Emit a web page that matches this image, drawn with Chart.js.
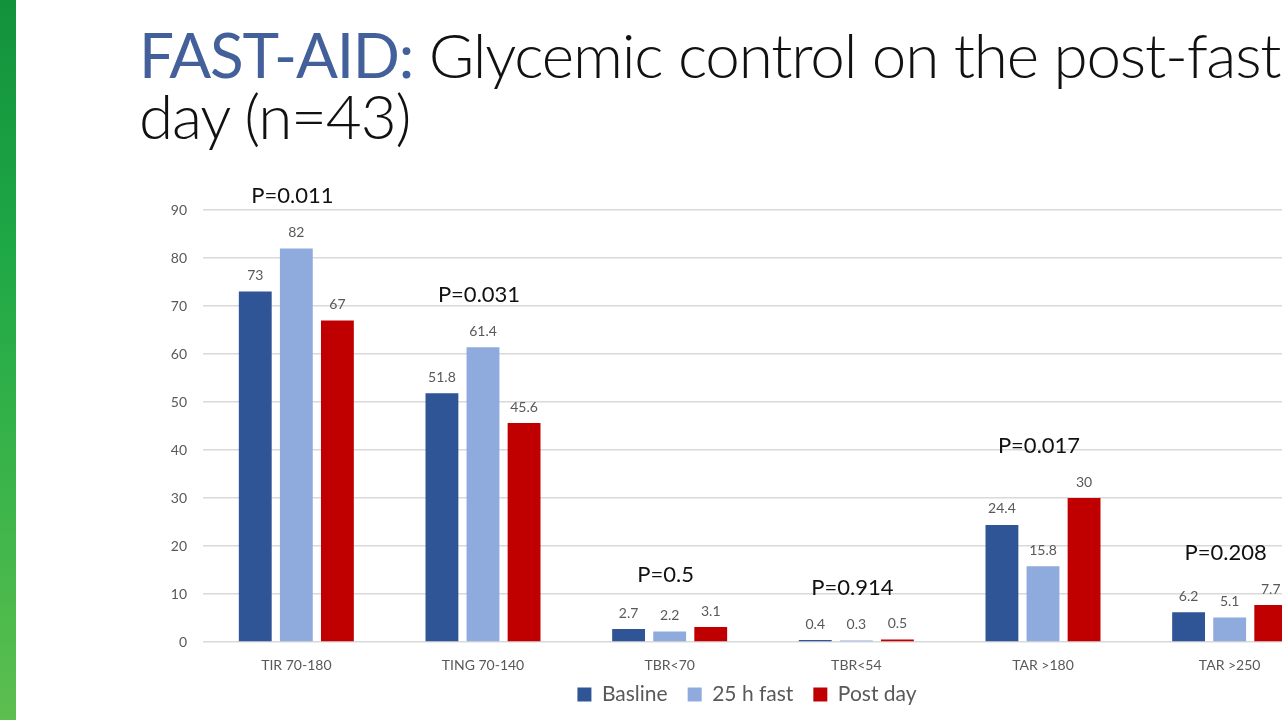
<!DOCTYPE html>
<html>
<head>
<meta charset="utf-8">
<script src="https://cdn.jsdelivr.net/npm/chart.js@4/dist/chart.umd.min.js"></script>
<style>
  html, body { margin: 0; padding: 0; width: 1282px; height: 720px; overflow: hidden; background: #ffffff; }
  #band { position: absolute; left: 0; top: 0; width: 16px; height: 720px;
          background: linear-gradient(180deg, #12923c 0%, #1fa846 35%, #3db54a 70%, #5cbf4f 100%); }
  #title { position: absolute; left: 139px; top: 24px; font-family: Lato, "Noto Sans", sans-serif;
           font-weight: 300; letter-spacing: -1.2px;
           font-size: 62px; line-height: 61px; color: #111111; white-space: nowrap; }
  #title .hl { color: #43609a; font-weight: 400; }
  #wrap { position: absolute; left: 100px; top: 150px; width: 1294px; height: 570px; }
</style>
</head>
<body>
<div id="band"></div>
<div id="title"><span class="hl">FAST-AID:</span> Glycemic control on the post-fast<br>day (n=43)</div>
<div id="wrap"><canvas id="myChart"></canvas></div>
<script>
'use strict'

// ------------------------- Data -------------------------------------- //
const categories = ['TIR 70-180', 'TING 70-140', 'TBR<70', 'TBR<54', 'TAR >180', 'TAR >250'];
const baseline   = [73, 51.8, 2.7, 0.4, 24.4, 6.2];
const fast25h    = [82, 61.4, 2.2, 0.3, 15.8, 5.1];
const postDay    = [67, 45.6, 3.1, 0.5, 30, 7.7];
const pValues    = ['P=0.011', 'P=0.031', 'P=0.5', 'P=0.914', 'P=0.017', 'P=0.208'];
const yTicks     = [0, 10, 20, 30, 40, 50, 60, 70, 80, 90];

const colors = ['#2f5597', '#8faadc', '#c00000'];

// value labels above bars + p-value labels above each group
const labelPlugin = {
    id: 'labels',
    afterDatasetsDraw(chart) {
        const ctx = chart.ctx;
        const yScale = chart.scales.y;
        const xScale = chart.scales.x;
        ctx.save();
        ctx.textAlign = 'center';
        ctx.textBaseline = 'middle';
        ctx.font = '14px Lato, "Noto Sans", sans-serif';
        ctx.fillStyle = '#595959';
        chart.data.datasets.forEach(function (ds, di) {
            const meta = chart.getDatasetMeta(di);
            meta.data.forEach(function (bar, i) {
                ctx.fillText(String(ds.data[i]), bar.x, bar.y - 16);
            });
        });
        ctx.font = '22px Lato, "Noto Sans", sans-serif';
        ctx.fillStyle = '#111111';
        for (let i = 0; i < categories.length; i++) {
            let top = Math.max(baseline[i], fast25h[i], postDay[i]);
            let x = xScale.getPixelForValue(i) - 4;
            let y = yScale.getPixelForValue(top) - 52;
            ctx.fillText(pValues[i], x, y);
        }
        ctx.restore();
    }
};

const ctx = document.getElementById('myChart').getContext('2d');
const myChart = new Chart(ctx, {
    type: 'bar',
    data: {
        labels: categories,
        datasets: [
            { label: 'Basline', data: baseline, backgroundColor: colors[0] },
            { label: '25 h fast', data: fast25h, backgroundColor: colors[1] },
            { label: 'Post day', data: postDay, backgroundColor: colors[2] }
        ]
    },
    plugins: [labelPlugin],
    options: {
        responsive: true,
        maintainAspectRatio: false,
        animation: false,
        categoryPercentage: 0.66,
        barPercentage: 0.8,
        layout: { padding: { top: 60, right: 71, left: 71, bottom: 5 } },
        scales: {
            x: {
                grid: { display: false, drawTicks: false },
                border: { display: false },
                ticks: { color: '#595959', font: { size: 14, family: 'Lato' }, padding: 15 },
                afterFit: function (scale) {
                    scale.height = 22;
                    // labels hang a little below the short axis box, do not clip them
                    scale._computeLabelArea = function () { return undefined; };
                }
            },
            y: {
                min: 0,
                max: 90,
                afterBuildTicks: function (scale) { scale.ticks = yTicks.map(v => ({ value: v })); },
                grid: { color: '#d9d9d9', drawTicks: false, lineWidth: 1.5 },
                border: { display: false },
                ticks: { color: '#595959', font: { size: 14, family: 'Lato' }, padding: 16 },
                afterFit: function (scale) { scale.width = 32; }
            }
        },
        plugins: {
            legend: {
                position: 'bottom',
                labels: {
                    color: '#595959',
                    font: { size: 21, family: 'Lato' },
                    boxWidth: 14,
                    boxHeight: 14,
                    padding: 20
                }
            },
            tooltip: { enabled: false }
        }
    }
});
</script>
</body>
</html>
